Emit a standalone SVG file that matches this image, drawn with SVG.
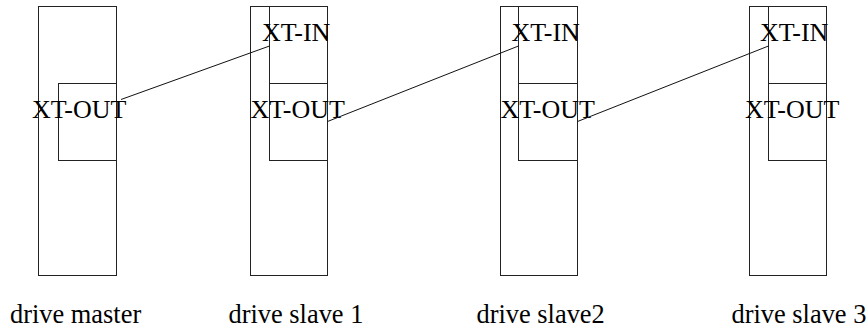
<svg xmlns="http://www.w3.org/2000/svg" width="868" height="329" viewBox="0 0 868 329">
  <style>
    .box { fill: none; stroke: #222; stroke-width: 1; }
    .wire { fill: none; stroke: #111; stroke-width: 1; }
    text { font-family: "Liberation Serif", "Times New Roman", serif; fill: #000; }
    .port { font-size: 26px; }
    .name { font-size: 26.4px; }
  </style>
  <rect width="868" height="329" fill="#fff"/>

  <!-- master drive -->
  <g id="drive-master">
    <rect class="box" x="38.5" y="6.5" width="78" height="269"/>
    <rect class="box" x="58.5" y="83.5" width="58" height="77"/>
    <text class="port" x="32" y="118">XT-OUT</text>
    <text class="name" x="10" y="323">drive master</text>
  </g>

  <!-- slave drive 1 -->
  <g id="drive-slave-1">
    <rect class="box" x="250.5" y="6.5" width="77" height="269"/>
    <rect class="box" x="269.5" y="6.5" width="58" height="77"/>
    <rect class="box" x="269.5" y="83.5" width="58" height="77"/>
    <text class="port" x="262" y="41">XT-IN</text>
    <text class="port" x="250.5" y="118">XT-OUT</text>
    <text class="name" x="228.5" y="323">drive slave 1</text>
  </g>

  <!-- slave drive 2 -->
  <g id="drive-slave-2">
    <rect class="box" x="500.5" y="6.5" width="77" height="269"/>
    <rect class="box" x="518.5" y="6.5" width="59" height="77"/>
    <rect class="box" x="518.5" y="83.5" width="59" height="77"/>
    <text class="port" x="511.5" y="41">XT-IN</text>
    <text class="port" x="500.5" y="118">XT-OUT</text>
    <text class="name" x="476.5" y="323">drive slave2</text>
  </g>

  <!-- slave drive 3 -->
  <g id="drive-slave-3">
    <rect class="box" x="749.5" y="6.5" width="77" height="269"/>
    <rect class="box" x="768.5" y="6.5" width="58" height="77"/>
    <rect class="box" x="768.5" y="83.5" width="58" height="77"/>
    <text class="port" x="760" y="41">XT-IN</text>
    <text class="port" x="745" y="118">XT-OUT</text>
    <text class="name" x="731.5" y="323">drive slave 3</text>
  </g>

  <!-- daisy-chain cabling OUT -> IN -->
  <g id="connectors">
    <line class="wire" x1="121" y1="99.5" x2="269.5" y2="46"/>
    <line class="wire" x1="327.5" y1="121.5" x2="518.5" y2="46"/>
    <line class="wire" x1="577.5" y1="121.5" x2="768.5" y2="46"/>
  </g>
</svg>
